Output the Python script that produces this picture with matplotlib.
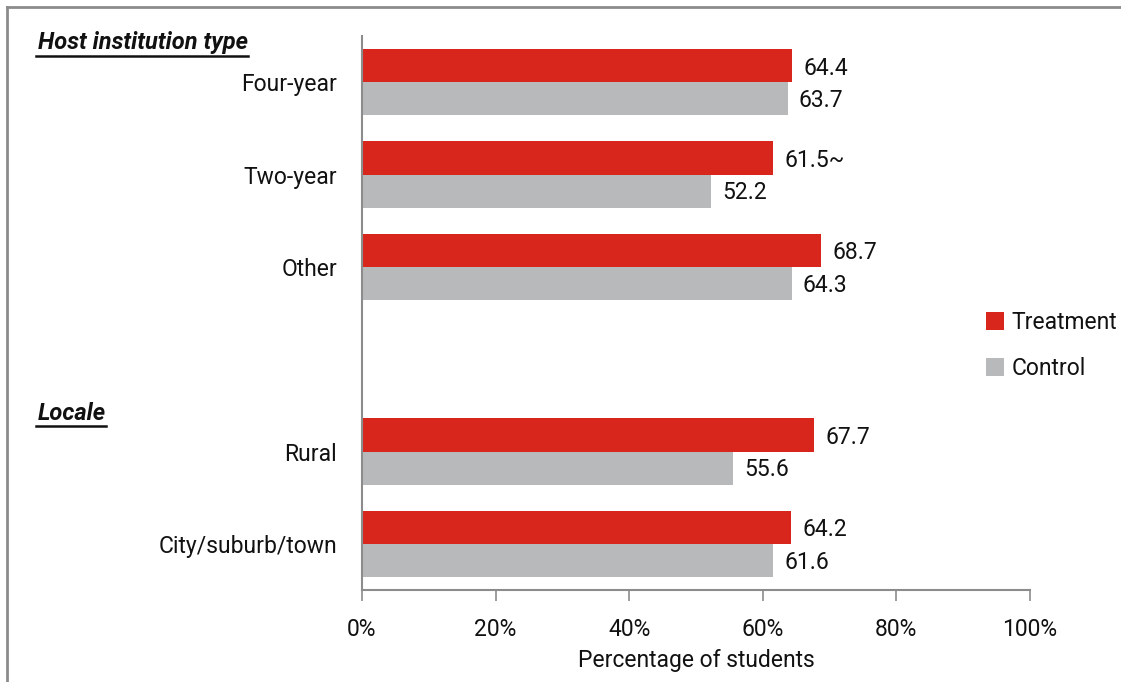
import matplotlib
matplotlib.use("Agg")
import matplotlib.pyplot as plt
from matplotlib.lines import Line2D
import matplotlib.font_manager as fm

names = {f.name for f in fm.fontManager.ttflist}
FONT = 'Liberation Sans Narrow' if 'Liberation Sans Narrow' in names else 'Roboto'
plt.rcParams['font.family'] = [FONT, 'DejaVu Sans']
FS = 16.5

categories = ["Four-year", "Two-year", "Other", "Rural", "City/suburb/town"]
positions = [0, 1, 2, 4, 5]
treatment = [64.4, 61.5, 68.7, 67.7, 64.2]
control = [63.7, 52.2, 64.3, 55.6, 61.6]
treat_labels = ["64.4", "61.5~", "68.7", "67.7", "64.2"]
ctrl_labels = ["63.7", "52.2", "64.3", "55.6", "61.6"]
xticks = [0, 20, 40, 60, 80, 100]
xticklabels = ["0%", "20%", "40%", "60%", "80%", "100%"]

RED = "#d9261c"
GRAY = "#b7b9ba"
TXT = '#111111'
W, H = 1121, 682
fig = plt.figure(figsize=(W / 100, H / 100), dpi=100)
ax = fig.add_axes([362 / W, 1 - 590 / H, (1030 - 362) / W, (590 - 36) / H])

bh = 0.36
tpos = [p - bh / 2 for p in positions]
cpos = [p + bh / 2 for p in positions]
ax.barh(tpos, treatment, height=bh, color=RED, label="Treatment")
ax.barh(cpos, control, height=bh, color=GRAY, label="Control")
for y, v, s in zip(tpos, treatment, treat_labels):
    ax.text(v + 1.7, y + 0.03, s, va='center', ha='left', fontsize=FS, color=TXT)
for y, v, s in zip(cpos, control, ctrl_labels):
    ax.text(v + 1.7, y + 0.02, s, va='center', ha='left', fontsize=FS, color=TXT)

ax.set_xlim(0, 100)
ax.set_ylim(5.5, -0.5)
ax.set_yticks(positions)
ax.set_yticklabels(categories, fontsize=FS, color=TXT)
ax.tick_params(axis='y', length=0, pad=18)
ax.set_xticks(xticks)
ax.set_xticklabels(xticklabels, fontsize=FS, color=TXT)
ax.tick_params(axis='x', length=8, width=1.2, color='#8c8c8c', direction='out', pad=12)
ax.set_xlabel("Percentage of students", fontsize=FS, color=TXT, labelpad=6)
for s in ['top', 'right']:
    ax.spines[s].set_visible(False)
for s in ['left', 'bottom']:
    ax.spines[s].set_color('#8c8c8c')
    ax.spines[s].set_linewidth(1.5)

fig.text(38 / W, 1 - 43 / H, "Host institution type", fontsize=17, fontstyle='italic',
         fontweight='bold', va='center', ha='left', color=TXT)
fig.add_artist(Line2D([36 / W, 248 / W], [1 - 56 / H, 1 - 56 / H], color=TXT, lw=1.8))
fig.text(38 / W, 1 - 413 / H, "Locale", fontsize=17, fontstyle='italic',
         fontweight='bold', va='center', ha='left', color=TXT)
fig.add_artist(Line2D([36 / W, 106 / W], [1 - 426 / H, 1 - 426 / H], color=TXT, lw=1.8))

leg = ax.legend(loc='upper left', bbox_to_anchor=(986 / W, 1 - 311 / H), bbox_transform=fig.transFigure,
                frameon=False, fontsize=FS, handlelength=0.8, handleheight=0.8, handletextpad=0.3,
                labelspacing=1.0, borderpad=0, borderaxespad=0)
for t in leg.get_texts():
    t.set_color(TXT)

# figure border (left and top)
fig.add_artist(Line2D([7 / W, 7 / W], [0, 1 - 7 / H], color='#8c8c8c', lw=2))
fig.add_artist(Line2D([7 / W, 1], [1 - 7 / H, 1 - 7 / H], color='#8c8c8c', lw=2))

fig.savefig("out.png", dpi=100)
